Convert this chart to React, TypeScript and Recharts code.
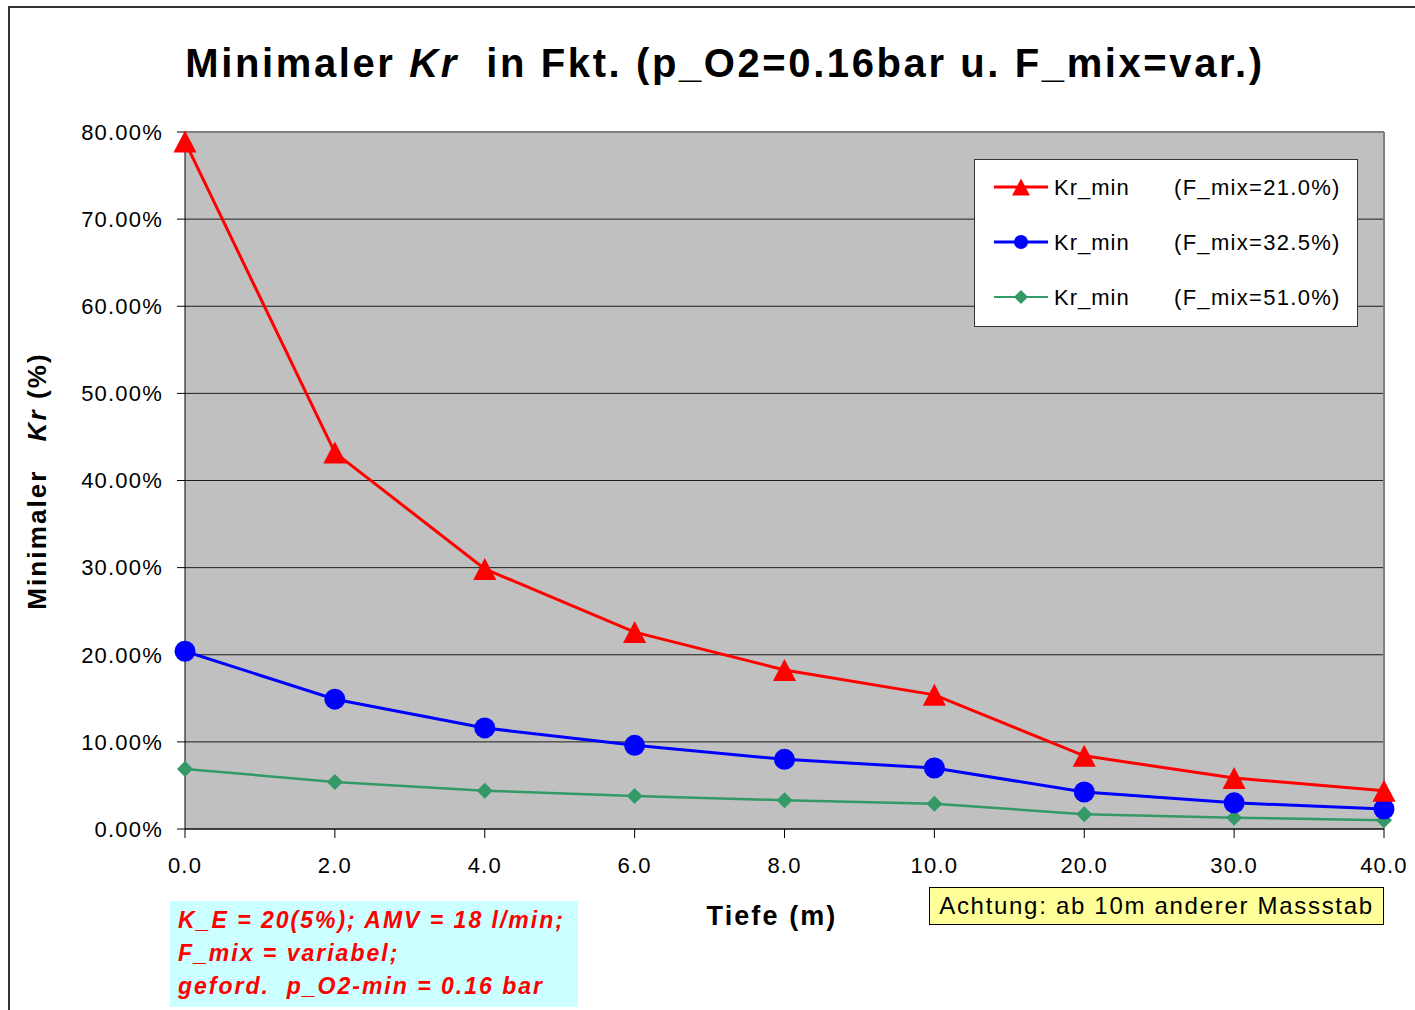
import React from 'react';
import { LineChart, Line, XAxis, YAxis, CartesianGrid, ReferenceLine } from 'recharts';

// Tiefe (m) - category axis, scale changes after 10 m
const depths = ['0.0', '2.0', '4.0', '6.0', '8.0', '10.0', '20.0', '30.0', '40.0'];
const krMix21 = [0.789, 0.432, 0.2985, 0.226, 0.1825, 0.154, 0.084, 0.0585, 0.044];
const krMix325 = [0.204, 0.149, 0.116, 0.096, 0.08, 0.07, 0.0425, 0.03, 0.023];
const krMix51 = [0.069, 0.054, 0.044, 0.038, 0.033, 0.029, 0.017, 0.013, 0.01];
const yTicks = [0, 0.1, 0.2, 0.3, 0.4, 0.5, 0.6, 0.7, 0.8];

const legendItems = [
    { label: 'Kr_min', mix: '(F_mix=21.0%)', color: '#FF0000', shape: 'triangle', width: 3 },
    { label: 'Kr_min', mix: '(F_mix=32.5%)', color: '#0000FF', shape: 'circle', width: 3 },
    { label: 'Kr_min', mix: '(F_mix=51.0%)', color: '#339966', shape: 'diamond', width: 2 },
];

const data = depths.map((d, i) => ({
    depth: d,
    kr21: krMix21[i],
    kr325: krMix325[i],
    kr51: krMix51[i],
}));

const FONT = 'Arial, "Liberation Sans", Helvetica, sans-serif';

const markerPath = (shape: string, cx: number, cy: number, s: number) => {
    if (shape === 'triangle') {
        return `M${cx},${cy - s} L${cx + s * 1.05},${cy + s} L${cx - s * 1.05},${cy + s} Z`;
    }
    if (shape === 'diamond') {
        return `M${cx},${cy - s} L${cx + s},${cy} L${cx},${cy + s} L${cx - s},${cy} Z`;
    }
    return '';
};

const makeDot = (shape: string, color: string, size: number) => (props: any) => {
    const { cx, cy, index } = props;
    if (cx == null || cy == null) return <g key={`d-${shape}-${index}`} />;
    if (shape === 'circle') {
        return <circle key={`d-${shape}-${index}`} cx={cx} cy={cy} r={size} fill={color} />;
    }
    return <path key={`d-${shape}-${index}`} d={markerPath(shape, cx, cy, size)} fill={color} />;
};

const App: React.FC = () => {
    return (
        <div style={{
            position: 'absolute',
            left: 0,
            top: 0,
            width: 1415,
            height: 1010,
            overflow: 'hidden',
            background: 'white',
            fontFamily: FONT
        }}>
            {/* chart frame */}
            <div style={{
                position: 'absolute',
                left: 8,
                top: 6,
                width: 1430,
                height: 1030,
                border: '2px solid #333'
            }} />

            <div style={{ position: 'absolute', left: 0, top: 0 }}>
                <LineChart
                    width={1415}
                    height={1010}
                    data={data}
                    margin={{ top: 132, right: 31, bottom: 151, left: 85 }}
                >
                    <CartesianGrid
                        vertical={false}
                        stroke="#000"
                        strokeOpacity={0.85}
                        fill="#C0C0C0"
                        fillOpacity={1}
                    />
                    <ReferenceLine y={0.8} stroke="#808080" strokeWidth={2} />
                    <ReferenceLine x="40.0" stroke="#808080" strokeWidth={2} />
                    <XAxis
                        dataKey="depth"
                        height={30}
                        padding={{ left: 0, right: 0 }}
                        stroke="#000"
                        tickSize={9}
                        tickMargin={19}
                        tick={{ fill: '#000', fontSize: 22, fontFamily: FONT, letterSpacing: 1.2 }}
                        axisLine={{ stroke: '#000', strokeWidth: 1 }}
                        tickLine={{ stroke: '#000' }}
                        interval={0}
                    />
                    <YAxis
                        width={100}
                        domain={[0, 0.8]}
                        ticks={yTicks}
                        interval={0}
                        tickFormatter={(v: number) => `${(v * 100).toFixed(2)}%`}
                        tickSize={8}
                        tickMargin={14}
                        tick={{ fill: '#000', fontSize: 22, fontFamily: FONT, letterSpacing: 1.2 }}
                        axisLine={{ stroke: '#000', strokeWidth: 1 }}
                        tickLine={{ stroke: '#000' }}
                    />
                    <Line
                        type="linear"
                        dataKey="kr51"
                        stroke="#339966"
                        strokeWidth={2.5}
                        dot={makeDot('diamond', '#339966', 8)}
                        activeDot={false}
                        isAnimationActive={false}
                    />
                    <Line
                        type="linear"
                        dataKey="kr325"
                        stroke="#0000FF"
                        strokeWidth={3}
                        dot={makeDot('circle', '#0000FF', 10.5)}
                        activeDot={false}
                        isAnimationActive={false}
                    />
                    <Line
                        type="linear"
                        dataKey="kr21"
                        stroke="#FF0000"
                        strokeWidth={3}
                        dot={makeDot('triangle', '#FF0000', 11)}
                        activeDot={false}
                        isAnimationActive={false}
                    />
                </LineChart>
            </div>

            {/* title */}
            <div style={{
                position: 'absolute',
                left: 0,
                width: 1450,
                top: 38,
                textAlign: 'center',
                fontSize: 40,
                fontWeight: 'bold',
                letterSpacing: 2.6,
                lineHeight: '50px',
                color: '#000',
                whiteSpace: 'nowrap'
            }}>
                Minimaler <i>Kr</i>&nbsp; in Fkt. (p_O2=0.16bar u. F_mix=var.)
            </div>

            {/* y axis label */}
            <div style={{
                position: 'absolute',
                left: 37,
                top: 481,
                transform: 'translate(-50%, -50%) rotate(-90deg)',
                fontSize: 26,
                fontWeight: 'bold',
                letterSpacing: 2.1,
                whiteSpace: 'nowrap',
                color: '#000'
            }}>
                Minimaler&nbsp;&nbsp; <i>Kr</i> (%)
            </div>

            {/* x axis label */}
            <div style={{
                position: 'absolute',
                left: 772,
                top: 916,
                transform: 'translate(-50%, -50%)',
                fontSize: 27,
                fontWeight: 'bold',
                letterSpacing: 2.1,
                whiteSpace: 'nowrap',
                color: '#000'
            }}>
                Tiefe (m)
            </div>

            {/* legend */}
            <div style={{
                position: 'absolute',
                left: 974,
                top: 159,
                width: 382,
                height: 166,
                background: 'white',
                border: '1px solid #333'
            }}>
                <svg width={382} height={166} style={{ position: 'absolute', left: 0, top: 0 }}>
                    {legendItems.map((item, i) => {
                        const y = 27 + i * 55;
                        const cx = 46;
                        return (
                            <g key={i}>
                                <line x1={19} x2={73} y1={y} y2={y} stroke={item.color} strokeWidth={item.width} />
                                {item.shape === 'circle'
                                    ? <circle cx={cx} cy={y} r={7} fill={item.color} />
                                    : <path d={markerPath(item.shape, cx, y, item.shape === 'triangle' ? 8.5 : 7)} fill={item.color} />}
                                <text x={79} y={y} dy="0.36em" fontSize={22} fontFamily={FONT} letterSpacing={1} fill="#000">
                                    {item.label}
                                </text>
                                <text x={199} y={y} dy="0.36em" fontSize={22} fontFamily={FONT} letterSpacing={1.3} fill="#000">
                                    {item.mix}
                                </text>
                            </g>
                        );
                    })}
                </svg>
            </div>

            {/* scale warning */}
            <div style={{
                position: 'absolute',
                left: 929,
                top: 887,
                width: 453,
                height: 36,
                background: '#FFFF99',
                border: '1px solid #000',
                display: 'flex',
                alignItems: 'center',
                justifyContent: 'center',
                fontSize: 24,
                letterSpacing: 1.7,
                color: '#000',
                whiteSpace: 'nowrap'
            }}>
                Achtung: ab 10m anderer Massstab
            </div>

            {/* parameter box */}
            <div style={{
                position: 'absolute',
                left: 170,
                top: 901,
                width: 408,
                height: 106,
                background: '#CCFFFF',
                color: '#FF0000',
                fontWeight: 'bold',
                fontStyle: 'italic',
                fontSize: 23,
                letterSpacing: 2,
                lineHeight: '33px',
                paddingLeft: 8,
                paddingTop: 3,
                boxSizing: 'border-box',
                whiteSpace: 'nowrap'
            }}>
                <div>K_E = 20(5%); AMV = 18 l/min;</div>
                <div>F_mix = variabel;</div>
                <div>geford.&nbsp; p_O2-min = 0.16 bar</div>
            </div>
        </div>
    );
};

export default App;
